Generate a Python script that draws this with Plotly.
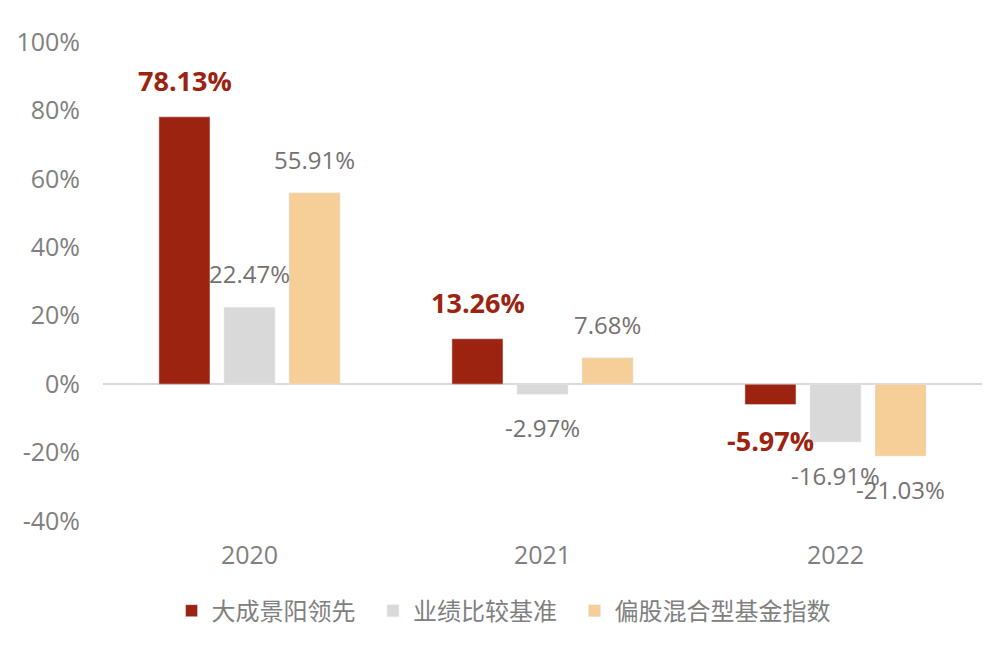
import plotly.graph_objects as go

years = ["2020", "2021", "2022"]
fund = [78.13, 13.26, -5.97]
bench = [22.47, -2.97, -16.91]
index = [55.91, 7.68, -21.03]

names = ["大成景阳领先", "业绩比较基准", "偏股混合型基金指数"]
colors = ["#9C2310", "#D9D9D9", "#F5CE98"]
y_ticks = [-40, -20, 0, 20, 40, 60, 80, 100]
y_labels = ["-40%", "-20%", "0%", "20%", "40%", "60%", "80%", "100%"]
FONT = "Open Sans, Noto Sans CJK SC"

fig = go.Figure()
for j, (name, vals, col) in enumerate(zip(names, [fund, bench, index], colors)):
    # two non-breaking spaces widen the gap between legend entries
    pad = "\u00a0\u00a0" if j < 2 else ""
    fig.add_trace(go.Bar(x=years, y=vals, name=name + pad, marker_color=col))

# value labels, placed off the bar ends like the original
# (category axis: annotation x given as category position, "2020" would be read as index 2020)
shifts = [-65, 0, 65]
for i, vals in enumerate([fund, bench, index]):
    for k, v in enumerate(vals):
        bold = i == 0
        fig.add_annotation(
            x=k, y=v, xshift=shifts[i],
            yshift=(16 if bold else 15) if v >= 0 else -15,
            yanchor="bottom" if v >= 0 else "top",
            text=("<b>%.2f%%</b>" if bold else "%.2f%%") % v,
            showarrow=False,
            font=dict(family=FONT, size=27 if bold else 24,
                      color="#9C2310" if bold else "#767171"),
        )

# page body has an 8px margin, so margins are trimmed by 8 on top/left
fig.update_layout(
    width=999, height=660,
    margin=dict(l=95, r=25, t=34, b=147),
    plot_bgcolor="white", paper_bgcolor="white",
    barmode="group", bargap=0.334, bargroupgap=0.215,
    font=dict(family=FONT, size=25, color="#808080"),
    showlegend=True,
    legend=dict(orientation="h", x=0.078, xanchor="left", y=-0.188,
                yanchor="middle", font=dict(size=24, color="#808080"),
                traceorder="normal"),
)
fig.update_yaxes(range=[-40, 100], tickvals=y_ticks, ticktext=y_labels,
                 showgrid=False, zeroline=True, zerolinecolor="#D9D9D9",
                 zerolinewidth=2, showline=False, automargin=False,
                 ticks="outside", ticklen=17, tickcolor="rgba(0,0,0,0)",
                 tickfont=dict(size=25, color="#808080"))
fig.update_xaxes(type="category", range=[-0.5, 2.5], showgrid=False,
                 showline=False, ticks="outside", ticklen=12,
                 tickcolor="rgba(0,0,0,0)",
                 tickfont=dict(size=25, color="#808080"))

fig.write_html("out.html")
